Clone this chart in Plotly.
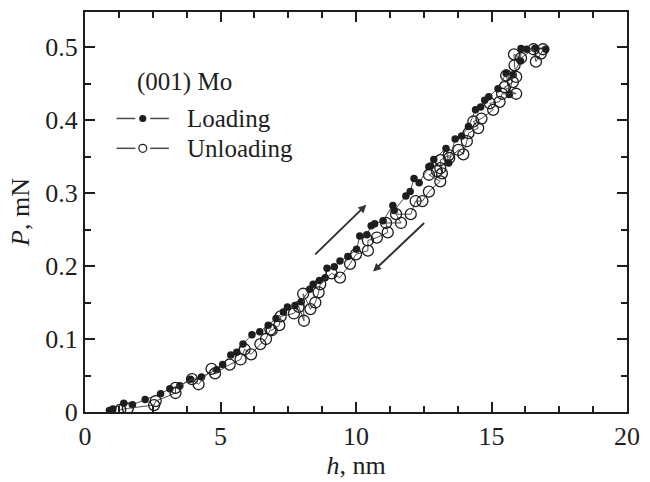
import plotly.graph_objects as go

# Nanoindentation of (001) Mo: load P (mN) versus indenter depth h (nm)
load_h = [0.9, 1.03, 1.43, 1.75, 2.22, 2.79, 3.13, 3.5, 3.89, 4.3, 4.86, 5.08, 5.38, 5.6,
          5.83, 6.16, 6.45, 6.76, 7.05, 7.32, 7.47, 7.75, 7.98, 8.29, 8.42, 8.65, 8.86,
          8.93, 9.2, 9.41, 9.7, 10.02, 10.14, 10.4, 10.56, 10.69, 11.0, 11.36, 11.41,
          11.84, 12.0, 12.14, 12.33, 12.69, 12.75, 12.87, 13.32, 13.42, 13.66, 13.9,
          14.15, 14.41, 14.6, 14.75, 14.9, 15.24, 15.54, 15.66, 15.8, 16.07, 16.09,
          16.3, 16.6, 17.0]
load_p = [0.002, 0.004, 0.012, 0.010, 0.017, 0.025, 0.032, 0.036, 0.045, 0.048, 0.058,
          0.065, 0.078, 0.082, 0.093, 0.106, 0.110, 0.119, 0.128, 0.137, 0.144, 0.146,
          0.151, 0.168, 0.175, 0.180, 0.184, 0.197, 0.199, 0.207, 0.213, 0.223, 0.241,
          0.243, 0.255, 0.258, 0.262, 0.283, 0.276, 0.296, 0.302, 0.320, 0.314, 0.336,
          0.337, 0.346, 0.361, 0.341, 0.374, 0.378, 0.391, 0.414, 0.418, 0.427, 0.432,
          0.443, 0.464, 0.435, 0.462, 0.481, 0.498, 0.497, 0.498, 0.497]

unload_h = [16.9, 16.82, 16.64, 16.55, 16.09, 15.83, 15.85, 15.91, 15.54, 15.79, 15.48,
            15.91, 15.39, 15.30, 14.94, 15.06, 14.63, 14.33, 14.51, 14.15, 14.09, 13.96,
            13.78, 13.44, 13.42, 13.11, 13.17, 13.11, 12.99, 12.69, 13.11, 12.69, 12.45,
            12.20, 12.02, 11.48, 11.66, 11.11, 11.17, 10.77, 10.44, 10.44, 10.0, 9.78,
            9.41, 9.1, 8.68, 8.62, 8.5, 8.32, 8.05, 8.08, 7.89, 7.71, 7.22, 7.17, 6.89,
            6.84, 6.68, 6.47, 6.13, 5.89, 5.74, 5.34, 4.80, 4.67, 4.19, 3.95, 3.34, 3.34,
            2.61, 2.55, 1.58, 1.3]
unload_p = [0.497, 0.491, 0.480, 0.497, 0.485, 0.490, 0.475, 0.459, 0.461, 0.452, 0.445,
            0.436, 0.436, 0.425, 0.423, 0.414, 0.402, 0.398, 0.389, 0.382, 0.371, 0.353,
            0.359, 0.348, 0.352, 0.345, 0.327, 0.334, 0.330, 0.325, 0.316, 0.302, 0.289,
            0.289, 0.271, 0.271, 0.259, 0.259, 0.246, 0.239, 0.235, 0.221, 0.216, 0.203,
            0.184, 0.190, 0.175, 0.164, 0.150, 0.141, 0.162, 0.125, 0.144, 0.135, 0.131,
            0.119, 0.112, 0.113, 0.100, 0.093, 0.079, 0.086, 0.072, 0.065, 0.053, 0.059,
            0.038, 0.045, 0.033, 0.026, 0.015, 0.0095, 0.005, 0.003]

x_ticks = [0, 5, 10, 15, 20]
y_ticks = [0, 0.1, 0.2, 0.3, 0.4, 0.5]
y_tick_text = ["0", "0.1", "0.2", "0.3", "0.4", "0.5"]
series_names = ["Loading", "Unloading"]
sample_label = "(001) Mo"

FONT = "Liberation Serif"
LINE = "#4a4a4a"
INK = "#1e1e1e"
FS = 26

# plot-area geometry in pixels (figure 650 x 482)
ML, MR, MT, MB = 85, 16, 10, 70
PW, PH = 650 - ML - MR, 482 - MT - MB


def px(x):
    return (x - ML) / PW


def py(y):
    return (482 - MB - y) / PH


fig = go.Figure()

fig.add_trace(go.Scatter(
    x=load_h, y=load_p, mode="lines+markers", name=series_names[0],
    line=dict(color=LINE, width=1),
    marker=dict(symbol="circle", size=7.5, color=INK, line=dict(width=0)),
    showlegend=False,
))
fig.add_trace(go.Scatter(
    x=unload_h, y=unload_p, mode="lines+markers", name=series_names[1],
    line=dict(color=LINE, width=1),
    marker=dict(symbol="circle-open", size=11, color=INK, line=dict(width=1.3)),
    showlegend=False,
))

# direction arrows alongside the curves
fig.add_annotation(x=10.38, y=0.284, ax=8.44, ay=0.214, xref="x", yref="y",
                   axref="x", ayref="y", showarrow=True, arrowhead=2, arrowsize=0.8,
                   arrowwidth=2, arrowcolor="#333333", text="")
fig.add_annotation(x=10.63, y=0.1925, ax=12.57, ay=0.261, xref="x", yref="y",
                   axref="x", ayref="y", showarrow=True, arrowhead=2, arrowsize=0.8,
                   arrowwidth=2, arrowcolor="#333333", text="")

# hand-drawn key: title, then "—•— Loading" and "—o— Unloading"
fig.add_annotation(x=px(136), y=py(80), xref="paper", yref="paper", text=sample_label,
                   showarrow=False, font=dict(family=FONT, size=FS - 1, color=INK),
                   xanchor="left", yanchor="middle")
shapes = []
for row_y, name, filled in [(117, series_names[0], True), (147, series_names[1], False)]:
    yy = py(row_y)
    shapes.append(dict(type="line", xref="paper", yref="paper", x0=px(117), x1=px(136),
                       y0=yy, y1=yy, line=dict(color=LINE, width=1.5)))
    shapes.append(dict(type="line", xref="paper", yref="paper", x0=px(151), x1=px(170),
                       y0=yy, y1=yy, line=dict(color=LINE, width=1.5)))
    r = 3 if filled else 4
    shapes.append(dict(type="circle", xref="paper", yref="paper",
                       x0=px(143.5 - r), x1=px(143.5 + r),
                       y0=py(row_y + r), y1=py(row_y - r),
                       fillcolor=INK if filled else "white",
                       line=dict(color=INK, width=1.2)))
    fig.add_annotation(x=px(186), y=yy, xref="paper", yref="paper", text=name,
                       showarrow=False, font=dict(family=FONT, size=FS - 1, color=INK),
                       xanchor="left", yanchor="middle")

axis_common = dict(
    showline=True, linecolor=INK, linewidth=2, mirror="ticks",
    ticks="inside", ticklen=10, tickwidth=1.5, tickcolor=INK,
    showgrid=False, zeroline=False,
    tickfont=dict(family=FONT, size=FS, color=INK),
)

fig.update_layout(
    width=650, height=482,
    margin=dict(l=ML, r=MR, t=MT, b=MB),
    paper_bgcolor="white", plot_bgcolor="white",
    showlegend=False,
    shapes=shapes,
    xaxis=dict(range=[0, 20], tickvals=x_ticks,
               minor=dict(dtick=1.25, ticks="inside", ticklen=6, tickwidth=1.5,
                          tickcolor=INK),
               title=dict(text="<i>h</i>, nm", font=dict(family=FONT, size=FS, color=INK),
                          standoff=0),
               **axis_common),
    yaxis=dict(range=[0, 0.548], tickvals=y_ticks, ticktext=y_tick_text,
               minor=dict(dtick=0.05, ticks="inside", ticklen=6, tickwidth=1.5,
                          tickcolor=INK),
               title=dict(text="<i>P</i>, mN", font=dict(family=FONT, size=FS, color=INK),
                          standoff=8),
               **axis_common),
)

fig.write_html("out.html")
